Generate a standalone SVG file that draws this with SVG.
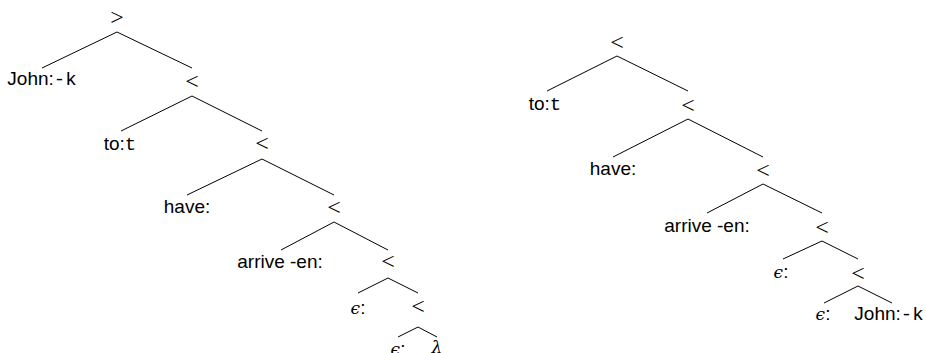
<svg xmlns="http://www.w3.org/2000/svg" width="926" height="353" viewBox="0 0 926 353">
<style>
.lbl{font-family:"Liberation Sans",Arial,sans-serif;font-size:19px;fill:#000;text-anchor:middle}
.tt{font-family:"Liberation Mono","Courier New",monospace}
.op{font-family:"Liberation Serif","DejaVu Serif",serif;font-size:24px;fill:#000;text-anchor:middle}
.gr{font-family:"DejaVu Serif","Liberation Serif",serif;font-style:italic;font-size:17px}
.edge{stroke:#000;stroke-width:1;fill:none}
</style>
<rect width="926" height="353" fill="#fff"/>
<g id="connectors" class="edge">
<line x1="117" y1="32" x2="42" y2="68"/><line x1="117" y1="32" x2="192" y2="68"/>
<line x1="192" y1="96" x2="121" y2="131"/><line x1="192" y1="96" x2="262" y2="131"/>
<line x1="262" y1="159" x2="187" y2="195"/><line x1="262" y1="159" x2="334" y2="195"/>
<line x1="334" y1="222" x2="281" y2="250"/><line x1="334" y1="222" x2="388" y2="250"/>
<line x1="388" y1="278" x2="358" y2="293"/><line x1="388" y1="278" x2="418" y2="293"/>
<line x1="418" y1="327" x2="398" y2="337"/><line x1="418" y1="327" x2="437" y2="337"/>
<line x1="617" y1="56" x2="547" y2="91"/><line x1="617" y1="56" x2="688" y2="91"/>
<line x1="688" y1="119" x2="613" y2="157"/><line x1="688" y1="119" x2="763" y2="157"/>
<line x1="763" y1="184" x2="707" y2="213"/><line x1="763" y1="184" x2="822" y2="213"/>
<line x1="822" y1="241" x2="783" y2="259"/><line x1="822" y1="241" x2="858" y2="259"/>
<line x1="858" y1="286" x2="824" y2="303"/><line x1="858" y1="286" x2="892" y2="303"/>
</g>
<g id="L0"><text class="op" x="117" y="25">&gt;</text></g>
<g id="L_john"><text class="lbl" x="42" y="85">John:<tspan class="tt">-k</tspan></text></g>
<g id="L1"><text class="op" x="192" y="89">&lt;</text></g>
<g id="L_to"><text class="lbl" x="120" y="150">to:<tspan class="tt">t</tspan></text></g>
<g id="L2"><text class="op" x="262" y="151">&lt;</text></g>
<g id="L_have"><text class="lbl" x="187" y="213">have:</text></g>
<g id="L3"><text class="op" x="334" y="215">&lt;</text></g>
<g id="L_arrive"><text class="lbl" x="280" y="268">arrive -en:</text></g>
<g id="L4"><text class="op" x="388" y="269">&lt;</text></g>
<g id="L_eps1"><text class="lbl" x="358" y="314"><tspan class="gr">ϵ</tspan>:</text></g>
<g id="L5"><text class="op" x="418" y="314">&lt;</text></g>
<g id="L_eps2"><text class="lbl" x="398" y="355"><tspan class="gr">ϵ</tspan>:</text></g>
<g id="L_lambda"><text class="lbl" x="437" y="353"><tspan class="gr">λ</tspan></text></g>
<g id="R0"><text class="op" x="617" y="50">&lt;</text></g>
<g id="R_to"><text class="lbl" x="545" y="110">to:<tspan class="tt">t</tspan></text></g>
<g id="R1"><text class="op" x="688" y="113">&lt;</text></g>
<g id="R_have"><text class="lbl" x="613" y="175">have:</text></g>
<g id="R2"><text class="op" x="763" y="178">&lt;</text></g>
<g id="R_arrive"><text class="lbl" x="707" y="232">arrive -en:</text></g>
<g id="R3"><text class="op" x="822" y="235">&lt;</text></g>
<g id="R_eps1"><text class="lbl" x="781" y="278"><tspan class="gr">ϵ</tspan>:</text></g>
<g id="R4"><text class="op" x="858" y="281">&lt;</text></g>
<g id="R_eps2"><text class="lbl" x="823" y="320"><tspan class="gr">ϵ</tspan>:</text></g>
<g id="R_john"><text class="lbl" x="889" y="320">John:<tspan class="tt">-k</tspan></text></g>
</svg>
